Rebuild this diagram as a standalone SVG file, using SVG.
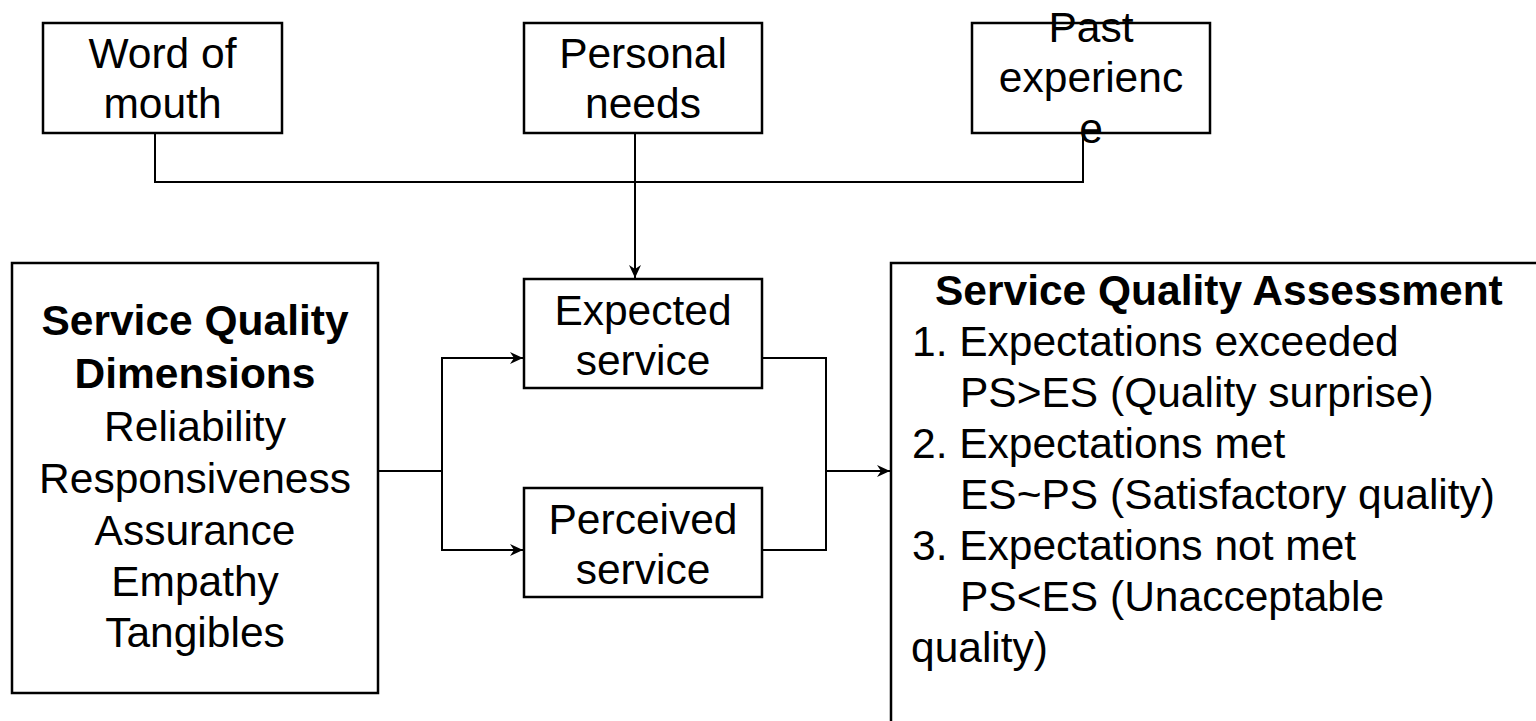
<svg xmlns="http://www.w3.org/2000/svg" width="1536" height="721" viewBox="0 0 1536 721">
<style>
.box{fill:#fff;stroke:#000;stroke-width:2.5}
.t{font-family:"Liberation Sans",Arial,sans-serif;font-size:42.5px;fill:#000}
.c{text-anchor:middle}
.b{font-weight:bold}
.ln{fill:none;stroke:#000;stroke-width:2}
</style>
<defs>
<marker id="arr" markerUnits="userSpaceOnUse" markerWidth="14" markerHeight="12" refX="13" refY="6" orient="auto">
<path d="M0,0 L13,6 L0,12 L4,6 z" fill="#000"/>
</marker>
</defs>
<rect width="1536" height="721" fill="#fff"/>
<g id="connectors">
<polyline class="ln" points="155,134 155,182 1083,182 1083,134"/>
<line class="ln" x1="635" y1="134" x2="635" y2="278" marker-end="url(#arr)"/>
<polyline class="ln" points="379,471 442,471"/>
<polyline class="ln" points="523,358 442,358 442,550 523,550"/>
<line class="ln" x1="442" y1="358" x2="523" y2="358" marker-end="url(#arr)"/>
<line class="ln" x1="442" y1="550" x2="523" y2="550" marker-end="url(#arr)"/>
<polyline class="ln" points="763,358 826,358 826,550 763,550"/>
<line class="ln" x1="826" y1="471" x2="890" y2="471" marker-end="url(#arr)"/>
</g>
<g id="word-of-mouth">
<rect class="box" x="43" y="23" width="239" height="110"/>
<text class="t c" x="162.5" y="68">Word of</text>
<text class="t c" x="162.5" y="118">mouth</text>
</g>
<g id="personal-needs">
<rect class="box" x="524" y="23" width="238" height="110"/>
<text class="t c" x="643" y="68">Personal</text>
<text class="t c" x="643" y="118">needs</text>
</g>
<g id="past-experience">
<rect class="box" x="972" y="23" width="238" height="110"/>
<text class="t c" x="1091" y="42">Past</text>
<text class="t c" x="1091" y="92">experienc</text>
<text class="t c" x="1091" y="143">e</text>
</g>
<g id="expected-service">
<rect class="box" x="524" y="279" width="238" height="109"/>
<text class="t c" x="643" y="325">Expected</text>
<text class="t c" x="643" y="375">service</text>
</g>
<g id="perceived-service">
<rect class="box" x="524" y="488" width="238" height="109"/>
<text class="t c" x="643" y="534">Perceived</text>
<text class="t c" x="643" y="584">service</text>
</g>
<g id="dimensions">
<rect class="box" x="12" y="263" width="366" height="430"/>
<text class="t c b" x="195" y="335">Service Quality</text>
<text class="t c b" x="195" y="388">Dimensions</text>
<text class="t c" x="195" y="441">Reliability</text>
<text class="t c" x="195" y="493">Responsiveness</text>
<text class="t c" x="195" y="545">Assurance</text>
<text class="t c" x="195" y="596">Empathy</text>
<text class="t c" x="195" y="647">Tangibles</text>
</g>
<g id="assessment">
<rect class="box" x="891" y="263" width="680" height="500"/>
<text class="t b" x="935" y="305">Service Quality Assessment</text>
<text class="t" x="912" y="356">1. Expectations exceeded</text>
<text class="t" x="960" y="407">PS&gt;ES (Quality surprise)</text>
<text class="t" x="912" y="458">2. Expectations met</text>
<text class="t" x="960" y="509">ES~PS (Satisfactory quality)</text>
<text class="t" x="912" y="560">3. Expectations not met</text>
<text class="t" x="960" y="611">PS&lt;ES (Unacceptable</text>
<text class="t" x="911" y="662">quality)</text>
</g>
</svg>
